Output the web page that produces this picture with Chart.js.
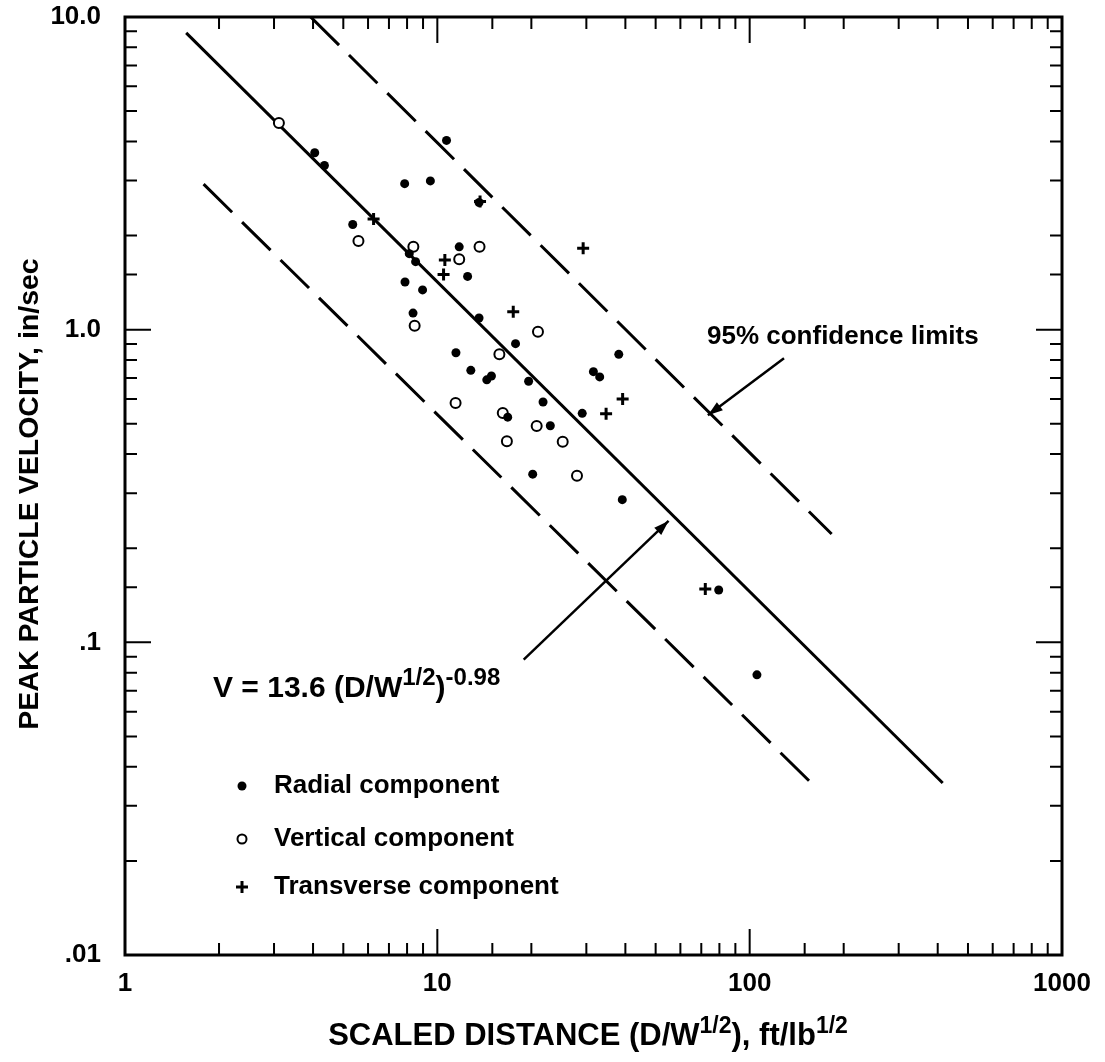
<!DOCTYPE html>
<html><head><meta charset="utf-8">
<script src="https://cdn.jsdelivr.net/npm/chart.js@4.4.0/dist/chart.umd.min.js"></script>
<style>html,body{margin:0;padding:0;background:#fff}#wrap{width:1105px;height:1062px;position:relative;background:#fff}</style>
</head><body><div id="wrap"><canvas id="c"></canvas></div>
<script>
// ---- data ----
const radialX = [4.05, 4.35, 10.7, 7.86, 9.50, 13.6, 5.36, 8.13, 8.52, 11.75, 12.5, 7.88, 8.97, 8.36, 13.6, 17.8, 11.47, 38.1, 12.8, 14.4, 14.9, 19.6, 31.6, 33.1, 21.8, 29.1, 16.8, 23.0, 20.2, 39.1, 79.6, 105.5];
const radialY = [3.68, 3.35, 4.03, 2.93, 2.99, 2.55, 2.17, 1.75, 1.65, 1.84, 1.48, 1.42, 1.34, 1.13, 1.09, 0.902, 0.844, 0.834, 0.741, 0.691, 0.711, 0.684, 0.734, 0.706, 0.587, 0.540, 0.525, 0.493, 0.345, 0.286, 0.147, 0.0787];
const verticalX = [3.11, 5.59, 8.38, 11.75, 13.65, 8.46, 21.0, 15.8, 11.44, 16.2, 20.8, 16.7, 25.2, 28.0];
const verticalY = [4.58, 1.92, 1.84, 1.68, 1.84, 1.03, 0.985, 0.834, 0.583, 0.541, 0.492, 0.440, 0.438, 0.341];
const transverseX = [6.25, 13.7, 10.57, 10.47, 29.3, 17.5, 39.2, 34.7, 72.1];
const transverseY = [2.26, 2.57, 1.67, 1.50, 1.82, 1.14, 0.600, 0.538, 0.148];
const fitX = [1.57, 415];
const fitY = [8.9, 0.0355];
const upperX = [3.93, 183];
const upperY = [10.0, 0.222];
const lowerX = [1.785, 165];
const lowerY = [2.92, 0.0339];
const confArrowX = [128.8, 73.5];
const confArrowY = [0.81, 0.532];
const fitArrowX = [18.9, 55.0];
const fitArrowY = [0.088, 0.2445];
const xTickLabels = ['1', '10', '100', '1000'];
const yTickLabels = ['.01', '.1', '1.0', '10.0'];
const legendLabels = ['Radial component', 'Vertical component', 'Transverse component'];
const confText = '95% confidence limits';
const formulaParts = [['V = 13.6 (D/W', false], ['1/2', true], [')', false], ['-0.98', true]];
const xTitleParts = [['SCALED DISTANCE (D/W', false], ['1/2', true], ['), ft/lb', false], ['1/2', true]];
const yTitle = 'PEAK PARTICLE VELOCITY, in/sec';

const FONT = "'Liberation Sans', Arial, Helvetica, sans-serif";
const pts = (xs, ys) => xs.map((x, i) => ({x: x, y: ys[i]}));
const isDecade = v => Math.abs(Math.log10(v) - Math.round(Math.log10(v))) < 1e-6;

function drawRich(ctx, parts, x, y, size, supSize, rise, align) {
  ctx.textAlign = 'left'; ctx.textBaseline = 'alphabetic';
  let w = 0;
  parts.forEach(p => { ctx.font = 'bold ' + (p[1] ? supSize : size) + 'px ' + FONT; w += ctx.measureText(p[0]).width; });
  let cx = align === 'center' ? x - w / 2 : x;
  parts.forEach(p => {
    ctx.font = 'bold ' + (p[1] ? supSize : size) + 'px ' + FONT;
    ctx.fillText(p[0], cx, p[1] ? y - rise : y);
    cx += ctx.measureText(p[0]).width;
  });
}
function arrow(ctx, x1, y1, x2, y2) {
  ctx.beginPath(); ctx.moveTo(x1, y1); ctx.lineTo(x2, y2); ctx.stroke();
  const a = Math.atan2(y2 - y1, x2 - x1), L = 15, W = 5;
  ctx.beginPath();
  ctx.moveTo(x2, y2);
  ctx.lineTo(x2 - L * Math.cos(a) + W * Math.sin(a), y2 - L * Math.sin(a) - W * Math.cos(a));
  ctx.lineTo(x2 - L * Math.cos(a) - W * Math.sin(a), y2 - L * Math.sin(a) + W * Math.cos(a));
  ctx.closePath(); ctx.fill();
}
function noPad(s) { s.paddingTop = 0; s.paddingBottom = 0; s.paddingLeft = 0; s.paddingRight = 0; }

const decor = {
  id: 'decor',
  afterDraw(chart) {
    const ctx = chart.ctx, xs = chart.scales.x, ys = chart.scales.y, ca = chart.chartArea;
    ctx.save();
    ctx.strokeStyle = '#000'; ctx.fillStyle = '#000';
    // inside ticks on all four sides
    ctx.lineWidth = 2;
    xs.ticks.forEach(t => {
      const v = t.value; if (v <= xs.min || v >= xs.max) return;
      const px = xs.getPixelForValue(v), L = isDecade(v) ? 26 : 12;
      ctx.beginPath(); ctx.moveTo(px, ca.bottom); ctx.lineTo(px, ca.bottom - L);
      ctx.moveTo(px, ca.top); ctx.lineTo(px, ca.top + L); ctx.stroke();
    });
    ys.ticks.forEach(t => {
      const v = t.value; if (v <= ys.min || v >= ys.max) return;
      const py = ys.getPixelForValue(v), L = isDecade(v) ? 26 : 12;
      ctx.beginPath(); ctx.moveTo(ca.left, py); ctx.lineTo(ca.left + L, py);
      ctx.moveTo(ca.right, py); ctx.lineTo(ca.right - L, py); ctx.stroke();
    });
    ctx.lineWidth = 3;
    ctx.strokeRect(ca.left, ca.top, ca.right - ca.left, ca.bottom - ca.top);
    // arrows
    ctx.lineWidth = 2.5;
    arrow(ctx, xs.getPixelForValue(confArrowX[0]), ys.getPixelForValue(confArrowY[0]), xs.getPixelForValue(confArrowX[1]), ys.getPixelForValue(confArrowY[1]));
    arrow(ctx, xs.getPixelForValue(fitArrowX[0]), ys.getPixelForValue(fitArrowY[0]), xs.getPixelForValue(fitArrowX[1]), ys.getPixelForValue(fitArrowY[1]));
    // annotations
    ctx.font = 'bold 26px ' + FONT; ctx.textAlign = 'left'; ctx.textBaseline = 'middle';
    ctx.fillText(confText, 707, 337);
    drawRich(ctx, formulaParts, 213, 697, 30, 24, 12, 'left');
    // legend
    const ly = [786, 839, 887], mx = 242, tx = 274;
    ctx.textBaseline = 'middle'; ctx.font = 'bold 26px ' + FONT;
    legendLabels.forEach((s, i) => ctx.fillText(s, tx, ly[i]));
    ctx.beginPath(); ctx.arc(mx, ly[0], 4.5, 0, 2 * Math.PI); ctx.fill();
    ctx.lineWidth = 2; ctx.beginPath(); ctx.arc(mx, ly[1], 4.5, 0, 2 * Math.PI); ctx.stroke();
    ctx.lineWidth = 3; ctx.beginPath(); ctx.moveTo(mx - 6, ly[2]); ctx.lineTo(mx + 6, ly[2]);
    ctx.moveTo(mx, ly[2] - 6); ctx.lineTo(mx, ly[2] + 6); ctx.stroke();
    // axis titles
    drawRich(ctx, xTitleParts, 588, 1045, 31, 23, 12, 'center');
    ctx.save(); ctx.translate(30, 494); ctx.rotate(-Math.PI / 2);
    ctx.font = 'bold 28.5px ' + FONT; ctx.textAlign = 'center'; ctx.textBaseline = 'middle';
    ctx.fillText(yTitle, 0, 0); ctx.restore();
    ctx.restore();
  }
};

new Chart(document.getElementById('c'), {
  type: 'scatter',
  data: {
    datasets: [
      {label: 'Radial component', data: pts(radialX, radialY), pointStyle: 'circle', pointRadius: 4.5, backgroundColor: '#000', borderColor: '#000', borderWidth: 0},
      {label: 'Vertical component', data: pts(verticalX, verticalY), pointStyle: 'circle', pointRadius: 5, backgroundColor: '#fff', borderColor: '#000', borderWidth: 2},
      {label: 'Transverse component', data: pts(transverseX, transverseY), pointStyle: 'cross', pointRadius: 6, borderColor: '#000', borderWidth: 3},
      {label: 'fit', data: pts(fitX, fitY), showLine: true, pointRadius: 0, borderColor: '#000', borderWidth: 3},
      {label: 'upper', data: pts(upperX, upperY), showLine: true, pointRadius: 0, borderColor: '#000', borderWidth: 3, borderDash: [40, 14]},
      {label: 'lower', data: pts(lowerX, lowerY), showLine: true, pointRadius: 0, borderColor: '#000', borderWidth: 3, borderDash: [40, 14]}
    ]
  },
  options: {
    responsive: true, maintainAspectRatio: false, animation: false,
    layout: {padding: {top: 17, right: 43, left: 0, bottom: 0}},
    plugins: {legend: {display: false}, tooltip: {enabled: false}},
    scales: {
      x: {
        type: 'logarithmic', min: 1, max: 1000,
        grid: {display: false, drawTicks: false}, border: {display: false},
        ticks: {autoSkip: false, maxRotation: 0, padding: 13, color: '#000', font: {family: FONT, size: 26, weight: 'bold'},
          callback: v => isDecade(v) ? xTickLabels[Math.round(Math.log10(v))] : ''},
        afterFit: s => { s.height = 107; noPad(s); }
      },
      y: {
        type: 'logarithmic', min: 0.01, max: 10,
        grid: {display: false, drawTicks: false}, border: {display: false},
        ticks: {autoSkip: false, padding: 24, color: '#000', font: {family: FONT, size: 26, weight: 'bold'},
          callback: v => isDecade(v) ? yTickLabels[Math.round(Math.log10(v)) + 2] : ''},
        afterFit: s => { s.width = 125; noPad(s); }
      }
    }
  },
  plugins: [decor]
});
</script></body></html>
